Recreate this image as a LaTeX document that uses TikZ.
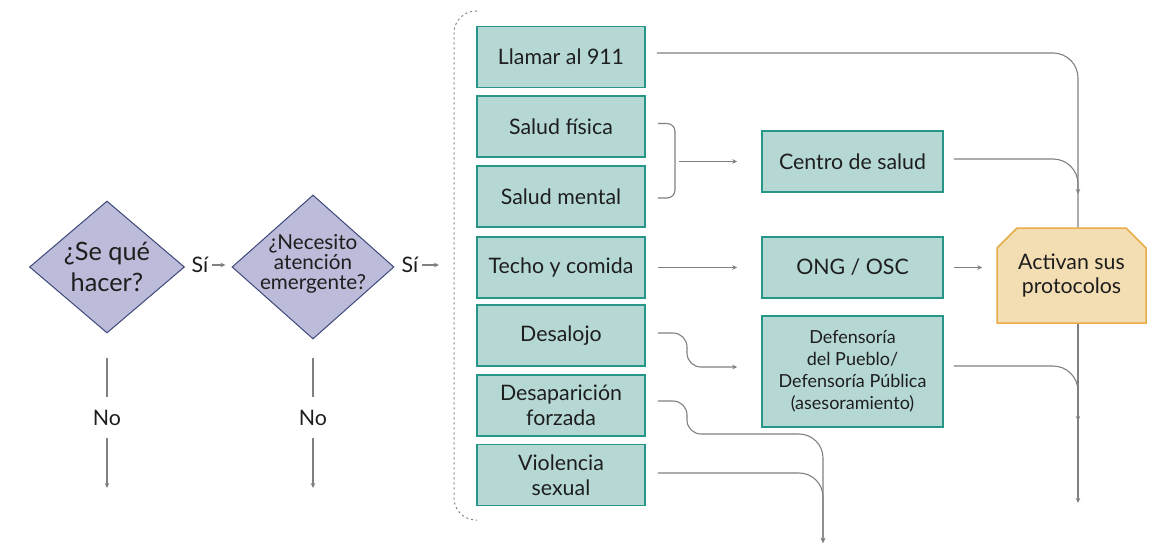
\documentclass[tikz,border=0pt]{standalone}
\usepackage{fontspec}
\setmainfont{Lato}
\usetikzlibrary{shapes.geometric,shapes.misc,arrows.meta}
\newdimen\pxu \pxu=0.75pt
\definecolor{boxfill}{RGB}{181,216,213}
\definecolor{boxdraw}{RGB}{38,150,136}
\definecolor{diafill}{RGB}{189,187,218}
\definecolor{diadraw}{RGB}{60,72,120}
\definecolor{actfill}{RGB}{243,221,178}
\definecolor{actdraw}{RGB}{232,172,72}
\definecolor{linegray}{RGB}{128,128,128}
\definecolor{txt}{RGB}{30,30,30}
\begin{document}
\begin{tikzpicture}[x=0.75pt,y=-0.75pt,
  box/.style={draw=boxdraw, fill=boxfill, line width=1.5\pxu, minimum width=168\pxu, minimum height=61\pxu, inner sep=0pt, align=center, text=txt, font=\fontsize{16}{19}\selectfont},
  dia/.style={diamond, draw=diadraw, fill=diafill, line width=1\pxu, inner sep=0pt},
  dtext/.style={align=center, text=txt, inner sep=0pt},
  lbl/.style={text=txt, inner sep=0pt, font=\fontsize{16}{19}\selectfont},
  act/.style={chamfered rectangle, chamfered rectangle corners={north west,north east}, chamfered rectangle xsep=9\pxu, chamfered rectangle ysep=11\pxu, draw=actdraw, fill=actfill, line width=1.5\pxu, minimum width=149\pxu, minimum height=95\pxu, inner sep=0pt, align=center, text=txt, font=\fontsize{16}{18}\selectfont},
  line/.style={draw=linegray, line width=1.1\pxu},
  arrow/.style={line, -{Stealth[length=3.75pt,width=3.4pt]}},
  bracket/.style={draw=linegray, line width=1\pxu, dash pattern=on 1.5pt off 2.25pt}
]
\useasboundingbox (0,0) rectangle (1149,546);

% diamonds
\node[dia, minimum width=155\pxu, minimum height=132\pxu] (d1) at (107,267) {};
\node[dtext, font=\fontsize{19}{23}\selectfont] (t1) at (107,267) {¿Se qué\\hacer?};
\node[dia, minimum width=162\pxu, minimum height=144\pxu] (d2) at (313,267) {};
\node[dtext, font=\fontsize{15.5}{15}\selectfont] (t2) at (313,264) {¿Necesito\\atención\\emergente?};

% Sí labels
\node[lbl] (si1) at (200,265) {Sí};
\draw[arrow] ([xshift=3\pxu]si1.east) -- ([xshift=-6\pxu]si1.east -| d2.west);
\node[lbl] (si2) at (410,265) {Sí};
\coordinate (br) at (439,265);
\draw[arrow] ([xshift=3\pxu]si2.east) -- (br);

% No branches
\node[lbl, minimum height=41\pxu] (no1) at (107,417.5) {No};
\node[lbl, minimum height=41\pxu] (no2) at (313,417.5) {No};
\coordinate (e1) at (107,488);
\coordinate (e2) at (313,488);
\draw[line] ([yshift=-24\pxu]d1.south) -- (no1.north);
\draw[arrow] (no1.south) -- (e1);
\draw[line] ([yshift=-18\pxu]d2.south) -- (no2.north);
\draw[arrow] (no2.south) -- (e2);

% dotted bracket
\draw[bracket, rounded corners=22\pxu] (477,11) -- (454,11) -- (454,520) -- (477,520);

% left column
\node[box] (ll) at (561,57) {Llamar al 911};
\node[box] (fis) at (561,126.5) {Salud física};
\node[box] (men) at (561,196.5) {Salud mental};
\node[box] (tec) at (561,267.5) {Techo y comida};
\node[box] (des) at (561,335.5) {Desalojo};
\node[box] (dsp) at (561,405.5) {Desaparición\\forzada};
\node[box] (vio) at (561,475) {Violencia\\sexual};

% middle column
\node[box, minimum width=181\pxu] (cs) at (852.5,161.5) {Centro de salud};
\node[box, minimum width=181\pxu] (ong) at (852.5,267.5) {ONG / OSC};
\node[box, minimum width=181\pxu, minimum height=111\pxu, font=\fontsize{13.5}{16.5}\selectfont] (def) at (852.5,371.5) {Defensoría\\del Pueblo/\\Defensoría Pública\\(asesoramiento)};

% activan
\node[act] (ac) at (1071.5,275.5) {Activan sus\\protocolos};

% bus coordinates
\coordinate (bus) at (1078,0);
\coordinate (j1) at (1078,194);
\coordinate (j2) at (1078,421);
\coordinate (j3) at (1078,503);
\coordinate (bot) at (823,543);

% brace salud
\coordinate (bmid) at (675,161.5);
\draw[line, rounded corners=8\pxu] ([xshift=12\pxu,yshift=3\pxu]fis.east) -| (bmid) |- ([xshift=12\pxu,yshift=-1.5\pxu]men.east);
\draw[arrow] ([xshift=4\pxu]bmid) -- ([xshift=-24\pxu]cs.west);

% techo -> ong
\draw[arrow] ([xshift=12\pxu]tec.east) -- ([xshift=-24\pxu]ong.west);

% desalojo -> defensoria
\coordinate (dbend) at (687,367);
\draw[arrow, rounded corners=14\pxu] ([xshift=12\pxu,yshift=2.5\pxu]des.east) -| (dbend) -- ([xshift=-24\pxu,yshift=4.5\pxu]def.west);

% desaparicion -> bottom
\coordinate (dspbend) at (687,434);
\draw[arrow, rounded corners=14\pxu] ([xshift=12\pxu,yshift=4.5\pxu]dsp.east) -| (dspbend) [rounded corners=24\pxu] -| (bot);

% violencia -> bottom
\draw[arrow, rounded corners=24\pxu] ([xshift=12\pxu,yshift=2\pxu]vio.east) -| (bot);

% ong -> activan
\draw[arrow] ([xshift=10\pxu]ong.east) -- ([xshift=-14\pxu]ong.east -| ac.west);

% right bus
\draw[line, rounded corners=25\pxu] ([xshift=11\pxu,yshift=4\pxu]ll.east) -| (ac.north -| bus);
\draw[arrow, rounded corners=25\pxu] ([xshift=10\pxu,yshift=2.5\pxu]cs.east) -| (j1);
\draw[arrow, rounded corners=25\pxu] ([xshift=10\pxu,yshift=5.5\pxu]def.east) -| (j2);
\draw[arrow] (ac.south -| bus) -- (j3);
\end{tikzpicture}
\end{document}
